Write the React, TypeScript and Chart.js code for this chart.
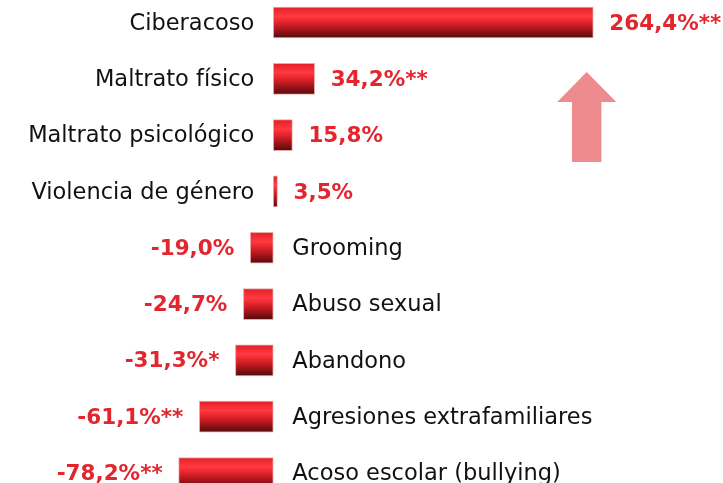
import React, { useEffect, useRef } from "react";
import { Chart, registerables } from "chart.js";

Chart.register(...registerables);

const categories = [
  "Ciberacoso",
  "Maltrato físico",
  "Maltrato psicológico",
  "Violencia de género",
  "Grooming",
  "Abuso sexual",
  "Abandono",
  "Agresiones extrafamiliares",
  "Acoso escolar (bullying)",
];
const values = [264.4, 34.2, 15.8, 3.5, -19.0, -24.7, -31.3, -61.1, -78.2];
const valueLabels = [
  "264,4%**",
  "34,2%**",
  "15,8%",
  "3,5%",
  "-19,0%",
  "-24,7%",
  "-31,3%*",
  "-61,1%**",
  "-78,2%**",
];

const CAT_FONT = '22.5px "DejaVu Sans", sans-serif';
const VAL_FONT = 'bold 21.5px "DejaVu Sans", sans-serif';
const RED_TEXT = "#e3262e";

const labelsPlugin = {
  id: "customLabels",
  afterDatasetsDraw(chart: any) {
    const { ctx } = chart;
    const xs = chart.scales.x;
    const ys = chart.scales.y;
    const zero = xs.getPixelForValue(0);
    ctx.save();
    ctx.textBaseline = "middle";
    values.forEach((v, i) => {
      const yc = ys.getPixelForValue(i) + 1.5;
      const end = xs.getPixelForValue(v);
      ctx.font = CAT_FONT;
      ctx.fillStyle = "#111111";
      if (v >= 0) {
        ctx.textAlign = "right";
        ctx.fillText(categories[i], zero - 19, yc);
      } else {
        ctx.textAlign = "left";
        ctx.fillText(categories[i], zero + 19, yc);
      }
      ctx.font = VAL_FONT;
      ctx.fillStyle = RED_TEXT;
      if (v >= 0) {
        ctx.textAlign = "left";
        ctx.fillText(valueLabels[i], end + 16, yc);
      } else {
        ctx.textAlign = "right";
        ctx.fillText(valueLabels[i], end - 16, yc);
      }
    });
    ctx.restore();
  },
};

const arrowPlugin = {
  id: "arrow",
  afterDraw(chart: any) {
    const { ctx, width } = chart;
    const cx = width * 0.8115;
    const tip = 72;
    const headBase = 102;
    const bottom = 162;
    const headHalf = 29.5;
    const shaftHalf = 14.7;
    ctx.save();
    ctx.fillStyle = "#ee8b8f";
    ctx.beginPath();
    ctx.moveTo(cx, tip);
    ctx.lineTo(cx + headHalf, headBase);
    ctx.lineTo(cx + shaftHalf, headBase);
    ctx.lineTo(cx + shaftHalf, bottom);
    ctx.lineTo(cx - shaftHalf, bottom);
    ctx.lineTo(cx - shaftHalf, headBase);
    ctx.lineTo(cx - headHalf, headBase);
    ctx.closePath();
    ctx.fill();
    ctx.restore();
  },
};

const BAR_THICK = 31;

function barFill(context: any) {
  const chart = context.chart;
  if (!chart.chartArea || !chart.scales.y) return "#e8222b";
  const yc = chart.scales.y.getPixelForValue(context.dataIndex);
  const top = yc - BAR_THICK / 2;
  const g = chart.ctx.createLinearGradient(0, top, 0, top + BAR_THICK);
  g.addColorStop(0, "#e41e27");
  g.addColorStop(0.3, "#ff3a40");
  g.addColorStop(0.5, "#e3232a");
  g.addColorStop(0.75, "#a0141a");
  g.addColorStop(1, "#520a0c");
  return g;
}

export default function App() {
  const ref = useRef<HTMLCanvasElement | null>(null);
  useEffect(() => {
    document.body.style.margin = "0";
    const canvas = ref.current!;
    const chart = new Chart(canvas, {
      type: "bar",
      data: {
        labels: categories,
        datasets: [
          {
            data: values,
            backgroundColor: barFill as any,
            borderColor: "rgba(230,160,160,0.9)",
            borderWidth: 1,
            borderSkipped: false,
            barThickness: BAR_THICK,
            clip: false as any,
          },
        ],
      },
      options: {
        indexAxis: "y",
        animation: false,
        responsive: false,
        maintainAspectRatio: false,
        layout: { padding: { top: 22.5, bottom: 10, left: 0, right: 0 } },
        plugins: {
          legend: { display: false },
          tooltip: { enabled: false },
        },
        scales: {
          x: { display: false, min: -225.8, max: 371.6 },
          y: { display: false, offset: false },
        },
      },
      plugins: [labelsPlugin, arrowPlugin],
    });
    return () => chart.destroy();
  }, []);
  return (
    <div style={{ position: "fixed", left: 0, top: 0, width: 723, height: 483, background: "#fff" }}>
      <canvas ref={ref} width={723} height={483} style={{ width: 723, height: 483 }} />
    </div>
  );
}
